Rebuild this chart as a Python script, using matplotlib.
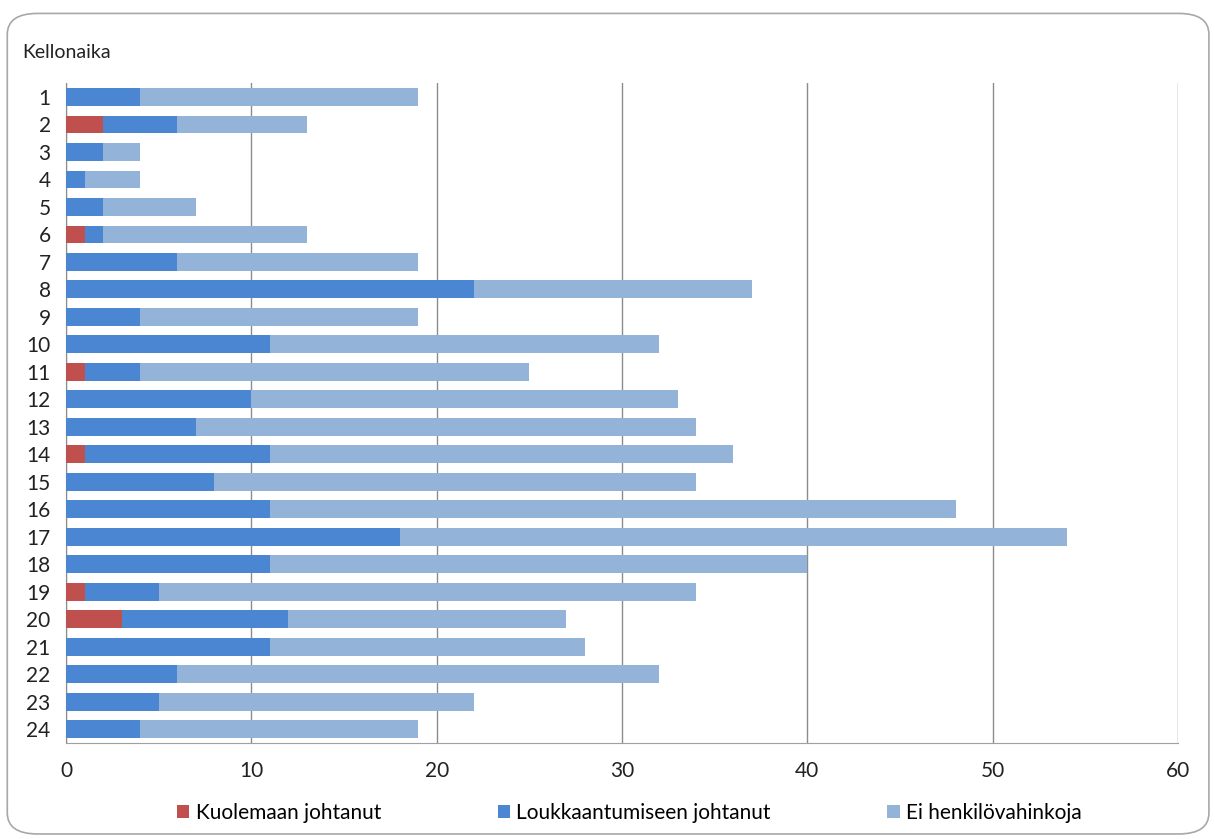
import matplotlib.pyplot as plt
from matplotlib.patches import FancyBboxPatch
import numpy as np

plt.rcParams['font.family'] = ['Lato', 'DejaVu Sans']

hours = [str(h) for h in range(1, 25)]
# arvot luettu kuvasta
kuolema = [0, 2, 0, 0, 0, 1, 0, 0, 0, 0, 1, 0, 0, 1, 0, 0, 0, 0, 1, 3, 0, 0, 0, 0]
loukkaantuminen = [4, 4, 2, 1, 2, 1, 6, 22, 4, 11, 3, 10, 7, 10, 8, 11, 18, 11, 4, 9, 11, 6, 5, 4]
ei_vahinkoja = [15, 7, 2, 3, 5, 11, 13, 15, 15, 21, 21, 23, 27, 25, 26, 37, 36, 29, 29, 15, 17, 26, 17, 15]

c_red = '#C0504D'
c_blue = '#4A86D2'
c_light = '#93B3D9'

fig = plt.figure(figsize=(12.15, 8.39), dpi=100)
fig.patches.append(FancyBboxPatch((0.006, 0.006), 0.989, 0.978, boxstyle='round,pad=0,rounding_size=0.025',
                                  transform=fig.transFigure, fill=False, edgecolor='#A8A8A8', linewidth=1.2))
ax = fig.add_axes([0.0543, 0.1144, 0.9152, 0.7866])

y = np.arange(len(hours))
k = np.array(kuolema)
l = np.array(loukkaantuminen)
e = np.array(ei_vahinkoja)
h = 0.64
ax.barh(y, k, height=h, color=c_red, label='Kuolemaan johtanut', zorder=3)
ax.barh(y, l, left=k, height=h, color=c_blue, label='Loukkaantumiseen johtanut', zorder=3)
ax.barh(y, e, left=k + l, height=h, color=c_light, label='Ei henkilövahinkoja', zorder=3)

ax.set_xlim(0, 60)
ax.set_ylim(len(hours) - 0.5, -0.5)
ax.set_yticks(y)
ax.set_yticklabels(hours)
ax.set_xticks(range(0, 61, 10))
ax.grid(axis='x', color='#8C8C8C', linewidth=1, zorder=0)
ax.tick_params(axis='both', length=0, labelsize=15, colors='#222222')
ax.tick_params(axis='x', pad=13)
ax.tick_params(axis='y', pad=11)
for s in ['top', 'right']:
    ax.spines[s].set_visible(False)
ax.spines['left'].set_color('#8C8C8C')
ax.spines['bottom'].set_color('#A0A0A0')

fig.text(0.018, 0.938, 'Kellonaika', fontsize=14, color='#222222', va='center')

fig.legend(loc='center', bbox_to_anchor=(0.518, 0.031), ncol=3, frameon=False, fontsize=15,
           handlelength=0.6, handleheight=0.6, handletextpad=0.3, columnspacing=5.6)

fig.savefig('out.png', dpi=100)
